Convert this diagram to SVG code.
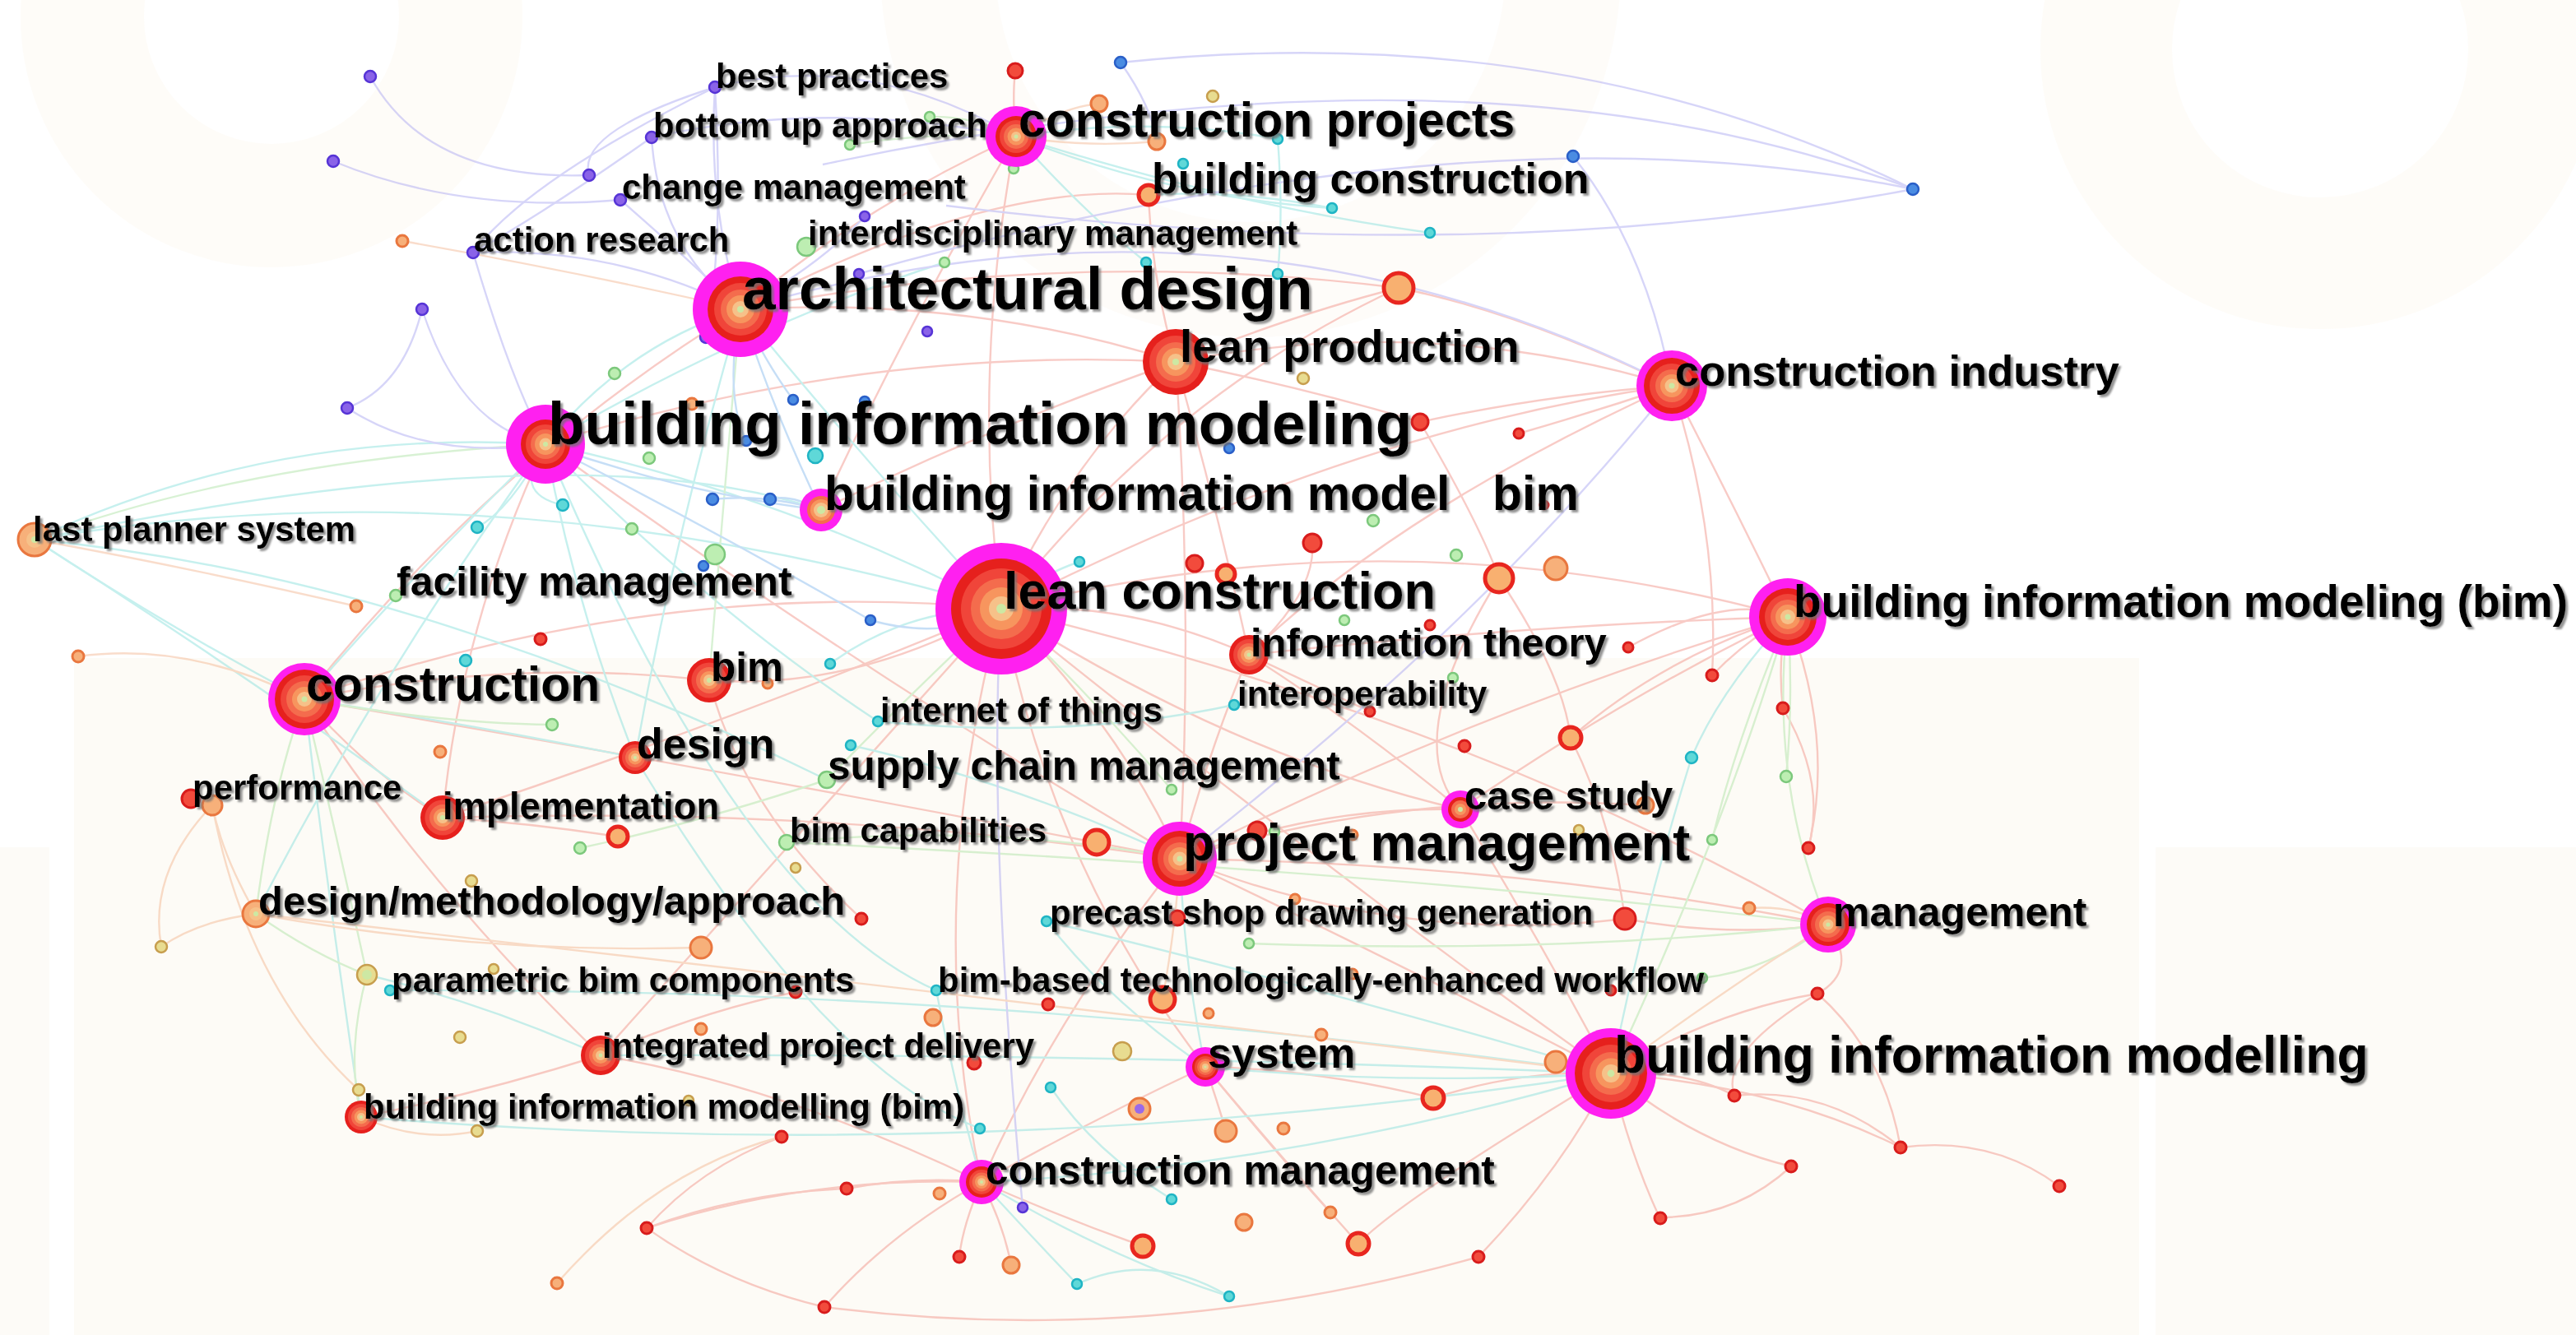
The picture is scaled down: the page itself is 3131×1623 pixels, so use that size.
<svg xmlns="http://www.w3.org/2000/svg" width="3131" height="1623" viewBox="0 0 3131 1623">
<defs>
<filter id="sh" x="-5%" y="-20%" width="110%" height="150%"><feDropShadow dx="3" dy="3" stdDeviation="1.2" flood-color="#707070" flood-opacity="0.75"/></filter>
<style>
.lb{font-family:"Liberation Sans",Arial,sans-serif;font-weight:bold;fill:#000;filter:url(#sh)}
.mg{fill:#ff20f0}.c1{fill:#e6201d}.c2{fill:#f0453a}.c3{fill:#f46c4d}.c4{fill:#f7955e}.c5{fill:#f6c189}.c6{fill:#cde8a3}
.r{fill:#f24b3c;stroke:#d81c1c;stroke-width:3}
.o{fill:#f7b07a;stroke:#e9773f;stroke-width:3}
.t{fill:#5fd8d8;stroke:#1fb4c4;stroke-width:2.5}
.b{fill:#4a8ce2;stroke:#2a5fc8;stroke-width:2.5}
.p{fill:#8a63e8;stroke:#5634d6;stroke-width:2.5}
.g{fill:#bdeeb2;stroke:#7cc87c;stroke-width:2.5}
.y{fill:#e8dc90;stroke:#c79e4e;stroke-width:2.5}
.rr{fill:#f8b070;stroke:#e8261f;stroke-width:5}
.e{fill:none;stroke-width:2.4;opacity:.42}
.er{stroke:#f0857a}.et{stroke:#79dcd8}.eg{stroke:#a3e09a}.ev{stroke:#a09cf0}.eo{stroke:#f2ae84}.eb{stroke:#78b2ec}
</style>
</defs>
<rect width="3131" height="1623" fill="#ffffff"/>
<g id="background" fill="none" stroke="#fdfaf4">
<circle cx="330" cy="20" r="230" stroke-width="150" opacity="0.6"/>
<circle cx="1520" cy="-40" r="380" stroke-width="140" opacity="0.5"/>
<circle cx="2820" cy="60" r="260" stroke-width="160" opacity="0.6"/>
<rect x="90" y="800" width="2510" height="823" fill="#fdfbf6" stroke="none"/>
<rect x="2620" y="1030" width="511" height="593" fill="#fdfbf7" stroke="none"/>
<rect x="0" y="1030" width="60" height="593" fill="#fdfbf7" stroke="none"/>
</g>
<g id="connectors" class="e">
<path class="er" d="M1217,740 Q1180,450 1235,166"/>
<path class="er" d="M1217,740 Q1300,560 1429,440"/>
<path class="er" d="M1217,740 Q1360,880 1434,1044"/>
<path class="er" d="M1217,740 Q1640,1080 1958,1305"/>
<path class="er" d="M1217,740 Q1650,520 2032,469"/>
<path class="er" d="M1217,740 Q800,700 370,850"/>
<path class="er" d="M1217,740 Q880,880 538,994"/>
<path class="er" d="M1217,740 Q1040,840 862,827"/>
<path class="er" d="M1217,740 Q1370,730 1518,796"/>
<path class="er" d="M1217,740 Q1280,1060 1465,1297"/>
<path class="er" d="M1217,740 Q1120,1100 1193,1437"/>
<path class="er" d="M1217,740 Q1700,620 2173,750"/>
<path class="er" d="M1217,740 Q1420,480 1700,350"/>
<path class="er" d="M1217,740 Q1800,880 2222,1124"/>
<path class="er" d="M1217,740 Q1500,920 1775,984"/>
<path class="er" d="M1217,740 Q940,1050 730,1283"/>
<path class="er" d="M900,376 Q1050,250 1235,166"/>
<path class="er" d="M900,376 Q1180,360 1429,440"/>
<path class="er" d="M900,376 Q600,560 370,850"/>
<path class="er" d="M900,376 Q1300,300 1700,350"/>
<path class="er" d="M900,376 Q1200,220 1396,237"/>
<path class="er" d="M663,540 Q560,760 538,994"/>
<path class="er" d="M663,540 Q1050,820 1434,1044"/>
<path class="er" d="M663,540 Q1050,420 1429,440"/>
<path class="er" d="M370,850 Q450,940 538,994"/>
<path class="er" d="M370,850 Q620,800 862,827"/>
<path class="er" d="M370,850 Q520,1080 730,1283"/>
<path class="er" d="M370,850 Q900,940 1434,1044"/>
<path class="er" d="M1434,1044 Q1280,1240 1193,1437"/>
<path class="er" d="M1434,1044 Q1720,1180 1958,1305"/>
<path class="er" d="M1434,1044 Q1600,980 1775,984"/>
<path class="er" d="M1434,1044 Q1850,1050 2222,1124"/>
<path class="er" d="M1434,1044 Q1470,910 1518,796"/>
<path class="er" d="M1434,1044 Q1000,980 538,994"/>
<path class="er" d="M1434,1044 Q1800,860 2173,750"/>
<path class="er" d="M1434,1044 Q1700,960 2000,979"/>
<path class="er" d="M1958,1305 Q2050,1300 2108,1332"/>
<path class="er" d="M1958,1305 Q2060,1390 2177,1418"/>
<path class="er" d="M1958,1305 Q2160,1320 2310,1395"/>
<path class="er" d="M1958,1305 Q1980,1400 2017,1480"/>
<path class="er" d="M1958,1305 Q1850,1300 1742,1335"/>
<path class="er" d="M1958,1305 Q1900,1420 1797,1528"/>
<path class="er" d="M1958,1305 Q2080,1230 2209,1208"/>
<path class="er" d="M1958,1305 Q1870,1140 1775,984"/>
<path class="er" d="M2108,1332 Q2220,1320 2310,1395"/>
<path class="er" d="M2310,1395 Q2420,1380 2503,1442"/>
<path class="er" d="M2017,1480 Q2110,1480 2177,1418"/>
<path class="er" d="M2209,1208 Q2290,1280 2310,1395"/>
<path class="er" d="M2209,1208 Q2090,1280 2108,1332"/>
<path class="er" d="M2173,750 Q2120,780 2081,821"/>
<path class="er" d="M2173,750 Q2160,800 2167,861"/>
<path class="er" d="M2173,750 Q2230,900 2198,1031"/>
<path class="er" d="M2173,750 Q1970,850 1775,984"/>
<path class="er" d="M2173,750 Q2020,800 1909,897"/>
<path class="er" d="M2173,750 Q1850,760 1518,796"/>
<path class="er" d="M2173,750 Q2100,720 1979,787"/>
<path class="er" d="M2167,861 Q2220,950 2198,1031"/>
<path class="er" d="M2032,469 Q2100,600 2173,750"/>
<path class="er" d="M2032,469 Q2090,650 2081,821"/>
<path class="er" d="M2032,469 Q1880,480 1726,513"/>
<path class="er" d="M2032,469 Q1940,500 1846,527"/>
<path class="er" d="M2032,469 Q1740,380 1429,440"/>
<path class="er" d="M2032,469 Q1850,380 1700,350"/>
<path class="er" d="M2032,469 Q1700,620 1518,796"/>
<path class="er" d="M1193,1437 Q1110,1430 1029,1445"/>
<path class="er" d="M1193,1437 Q1170,1490 1166,1528"/>
<path class="er" d="M1193,1437 Q1220,1490 1229,1538"/>
<path class="er" d="M1193,1437 Q1290,1480 1389,1515"/>
<path class="er" d="M1193,1437 Q950,1320 730,1283"/>
<path class="er" d="M1193,1437 Q980,1430 786,1493"/>
<path class="er" d="M1193,1437 Q1080,1500 1002,1589"/>
<path class="er" d="M1193,1437 Q1330,1360 1465,1297"/>
<path class="er" d="M1465,1297 Q1550,1400 1617,1474"/>
<path class="er" d="M1465,1297 Q1560,1410 1651,1512"/>
<path class="er" d="M1465,1297 Q1600,1300 1742,1335"/>
<path class="er" d="M1465,1297 Q1480,1340 1490,1375"/>
<path class="er" d="M786,1493 Q900,1450 1029,1445"/>
<path class="er" d="M786,1493 Q880,1560 1002,1589"/>
<path class="er" d="M786,1493 Q850,1420 950,1382"/>
<path class="er" d="M730,1283 Q580,1330 439,1358"/>
<path class="er" d="M730,1283 Q850,1230 967,1206"/>
<path class="er" d="M1429,440 Q1580,380 1700,350"/>
<path class="er" d="M1429,440 Q1580,470 1726,513"/>
<path class="er" d="M1429,440 Q1480,620 1518,796"/>
<path class="er" d="M1429,440 Q1450,740 1434,1044"/>
<path class="er" d="M1429,440 Q1200,520 998,620"/>
<path class="er" d="M1235,166 Q1230,120 1234,86"/>
<path class="er" d="M1235,166 Q1100,400 998,620"/>
<path class="er" d="M1396,237 Q1400,340 1429,440"/>
<path class="er" d="M1518,796 Q1590,830 1665,865"/>
<path class="er" d="M1518,796 Q1650,880 1775,984"/>
<path class="er" d="M1909,897 Q1960,1000 1975,1117"/>
<path class="er" d="M1822,703 Q1700,900 1775,984"/>
<path class="er" d="M1822,703 Q1900,820 1909,897"/>
<path class="er" d="M1595,660 Q1600,720 1518,796"/>
<path class="er" d="M538,994 Q640,1000 751,1017"/>
<path class="er" d="M862,827 Q900,980 1047,1117"/>
<path class="er" d="M1002,1589 Q1400,1640 1797,1528"/>
<path class="er" d="M1958,1305 Q1700,1460 1651,1512"/>
<path class="er" d="M1726,513 Q1800,640 1822,703"/>
<path class="er" d="M1434,1044 Q1700,1150 1975,1117"/>
<path class="er" d="M2222,1124 Q2260,1180 2209,1208"/>
<path class="er" d="M2222,1124 Q2100,1140 1975,1117"/>
<path class="et" d="M900,376 Q760,420 663,540"/>
<path class="et" d="M900,376 Q1050,560 1217,740"/>
<path class="et" d="M900,376 Q820,650 772,921"/>
<path class="et" d="M663,540 Q330,520 42,656"/>
<path class="et" d="M663,540 Q500,700 370,850"/>
<path class="et" d="M663,540 Q950,600 1217,740"/>
<path class="et" d="M663,540 Q700,740 772,921"/>
<path class="et" d="M663,540 Q460,820 311,1111"/>
<path class="et" d="M663,540 Q860,740 1067,877"/>
<path class="et" d="M663,540 Q900,400 1148,319"/>
<path class="et" d="M663,540 Q620,600 684,614"/>
<path class="et" d="M663,540 Q620,620 580,641"/>
<path class="et" d="M42,656 Q200,760 370,850"/>
<path class="et" d="M42,656 Q600,560 1217,740"/>
<path class="et" d="M42,656 Q300,820 538,994"/>
<path class="et" d="M42,656 Q500,700 1005,948"/>
<path class="et" d="M42,656 Q700,520 998,620"/>
<path class="et" d="M370,850 Q570,880 772,921"/>
<path class="et" d="M370,850 Q400,1100 439,1358"/>
<path class="et" d="M1434,1044 Q1440,1180 1465,1297"/>
<path class="et" d="M1958,1305 Q1700,1320 1465,1297"/>
<path class="et" d="M1958,1305 Q1560,1420 1193,1437"/>
<path class="et" d="M1958,1305 Q1350,1280 730,1283"/>
<path class="et" d="M1958,1305 Q1200,1420 439,1358"/>
<path class="et" d="M1958,1305 Q1600,1200 1272,1120"/>
<path class="et" d="M1193,1437 Q1260,1510 1309,1561"/>
<path class="et" d="M1193,1437 Q1350,1530 1494,1576"/>
<path class="et" d="M1235,166 Q1400,140 1553,169"/>
<path class="et" d="M1235,166 Q1420,240 1619,253"/>
<path class="et" d="M1235,166 Q1500,250 1738,283"/>
<path class="et" d="M1396,237 Q1500,230 1619,253"/>
<path class="et" d="M1235,166 Q1320,260 1393,319"/>
<path class="et" d="M1553,169 Q1560,260 1553,333"/>
<path class="et" d="M1067,877 Q1300,900 1500,857"/>
<path class="et" d="M1034,906 Q1230,950 1434,1044"/>
<path class="et" d="M1272,1120 Q1350,1220 1465,1297"/>
<path class="et" d="M1138,1204 Q1160,1320 1193,1437"/>
<path class="et" d="M1277,1322 Q1330,1400 1424,1458"/>
<path class="et" d="M1217,740 Q1100,740 1009,807"/>
<path class="et" d="M1217,740 Q1260,700 1312,683"/>
<path class="et" d="M2173,750 Q2090,840 2056,921"/>
<path class="et" d="M2056,921 Q2000,1100 1958,1305"/>
<path class="et" d="M446,1185 Q590,1220 730,1283"/>
<path class="et" d="M474,1204 Q1200,1200 1958,1305"/>
<path class="et" d="M1138,1204 Q900,1100 663,540"/>
<path class="et" d="M1191,1372 Q1000,1300 772,921"/>
<path class="et" d="M1309,1561 Q1400,1520 1494,1576"/>
<path class="eg" d="M900,376 Q880,600 862,827"/>
<path class="eg" d="M370,850 Q330,960 311,1111"/>
<path class="eg" d="M370,850 Q410,1020 446,1185"/>
<path class="eg" d="M1005,948 Q1100,850 1217,740"/>
<path class="eg" d="M956,1024 Q1200,1000 1434,1044"/>
<path class="eg" d="M1424,960 Q1330,850 1217,740"/>
<path class="eg" d="M2173,750 Q2180,850 2171,944"/>
<path class="eg" d="M2173,750 Q2150,950 2222,1124"/>
<path class="eg" d="M2173,750 Q2100,1000 1958,1305"/>
<path class="eg" d="M2173,750 Q2110,900 2081,1021"/>
<path class="eg" d="M1235,166 Q1180,140 1130,142"/>
<path class="eg" d="M1235,166 Q1130,160 1033,176"/>
<path class="eg" d="M439,1358 Q420,1280 446,1185"/>
<path class="eg" d="M311,1111 Q380,1160 446,1185"/>
<path class="eg" d="M42,656 Q300,560 663,540"/>
<path class="eg" d="M2222,1124 Q2150,1180 2069,1189"/>
<path class="eg" d="M705,1031 Q850,1000 1005,948"/>
<path class="eg" d="M671,881 Q540,880 370,850"/>
<path class="eg" d="M2222,1124 Q1700,1060 956,1024"/>
<path class="eg" d="M2222,1124 Q1900,1160 1518,1147"/>
<path class="ev" d="M450,93 Q520,220 716,213"/>
<path class="ev" d="M405,196 Q560,260 754,243"/>
<path class="ev" d="M869,106 Q700,160 716,213"/>
<path class="ev" d="M869,106 Q640,220 575,307"/>
<path class="ev" d="M792,167 Q660,260 575,307"/>
<path class="ev" d="M575,307 Q750,300 900,376"/>
<path class="ev" d="M792,167 Q800,300 900,376"/>
<path class="ev" d="M869,106 Q860,250 900,376"/>
<path class="ev" d="M754,243 Q820,300 900,376"/>
<path class="ev" d="M513,376 Q490,470 422,496"/>
<path class="ev" d="M513,376 Q560,520 663,540"/>
<path class="ev" d="M422,496 Q520,560 663,540"/>
<path class="ev" d="M869,106 Q1050,60 1235,166"/>
<path class="ev" d="M792,167 Q1000,120 1235,166"/>
<path class="ev" d="M1362,76 Q1900,20 2325,230"/>
<path class="ev" d="M1000,200 Q1800,30 2325,230"/>
<path class="ev" d="M1043,333 Q1800,120 2325,230"/>
<path class="ev" d="M1150,250 Q1800,330 2325,230"/>
<path class="ev" d="M1362,76 Q1400,130 1406,172"/>
<path class="ev" d="M900,376 Q1500,200 2032,469"/>
<path class="ev" d="M1912,190 Q2000,300 2032,469"/>
<path class="ev" d="M1243,1468 Q1200,1000 1217,740"/>
<path class="ev" d="M858,410 Q880,300 869,106"/>
<path class="ev" d="M575,307 Q620,460 663,540"/>
<path class="ev" d="M2032,469 Q1800,760 1434,1044"/>
<path class="ev" d="M1051,263 Q1000,320 900,376"/>
<path class="eo" d="M311,1111 Q240,1120 196,1151"/>
<path class="eo" d="M311,1111 Q270,1040 258,979"/>
<path class="eo" d="M311,1111 Q580,1160 852,1152"/>
<path class="eo" d="M258,979 Q180,1060 196,1151"/>
<path class="eo" d="M258,979 Q300,1200 436,1325"/>
<path class="eo" d="M42,656 Q230,690 433,737"/>
<path class="eo" d="M1958,1305 Q1100,1200 311,1111"/>
<path class="eo" d="M1958,1305 Q2100,1200 2222,1124"/>
<path class="eo" d="M1434,1044 Q1430,1120 1413,1215"/>
<path class="eo" d="M677,1560 Q800,1420 950,1382"/>
<path class="eo" d="M439,1358 Q510,1390 580,1375"/>
<path class="eo" d="M2222,1124 Q2180,1100 2126,1104"/>
<path class="eo" d="M1235,166 Q1290,130 1336,126"/>
<path class="eo" d="M1235,166 Q1320,180 1406,172"/>
<path class="eo" d="M370,850 Q230,780 95,798"/>
<path class="eo" d="M489,293 Q700,330 900,376"/>
<path class="eb" d="M900,376 Q940,500 998,620"/>
<path class="eb" d="M663,540 Q830,600 998,620"/>
<path class="eb" d="M663,540 Q860,640 1058,754"/>
<path class="eb" d="M998,620 Q960,600 936,607"/>
<path class="eb" d="M998,620 Q930,600 866,607"/>
<path class="eb" d="M900,376 Q930,440 964,486"/>
<path class="eb" d="M900,376 Q880,480 907,536"/>
<path class="eb" d="M1217,740 Q1150,780 1058,754"/>
</g>
<g id="minor-nodes">
<circle class="p" cx="450" cy="93" r="7"/><circle class="p" cx="405" cy="196" r="7"/><circle class="p" cx="869" cy="106" r="7"/><circle class="p" cx="792" cy="167" r="7"/><circle class="p" cx="716" cy="213" r="7"/><circle class="p" cx="754" cy="243" r="7"/><circle class="p" cx="575" cy="307" r="7"/><circle class="p" cx="1051" cy="263" r="6"/><circle class="p" cx="1044" cy="333" r="6"/><circle class="p" cx="513" cy="376" r="7"/><circle class="p" cx="858" cy="410" r="7"/><circle class="p" cx="422" cy="496" r="7"/><circle class="p" cx="1127" cy="403" r="6"/><circle class="p" cx="1243" cy="1468" r="6"/>
<circle class="b" cx="1362" cy="76" r="7"/><circle class="b" cx="1912" cy="190" r="7"/><circle class="b" cx="2325" cy="230" r="7"/><circle class="b" cx="964" cy="486" r="6"/><circle class="b" cx="1051" cy="488" r="6"/><circle class="b" cx="907" cy="536" r="6"/><circle class="b" cx="866" cy="607" r="7"/><circle class="b" cx="936" cy="607" r="7"/><circle class="b" cx="855" cy="688" r="6"/><circle class="b" cx="1058" cy="754" r="6"/><circle class="b" cx="1494" cy="545" r="6"/>
<circle class="t" cx="991" cy="554" r="9"/><circle class="t" cx="684" cy="614" r="7"/><circle class="t" cx="580" cy="641" r="7"/><circle class="t" cx="1553" cy="169" r="6"/><circle class="t" cx="1438" cy="199" r="6"/><circle class="t" cx="1393" cy="319" r="6"/><circle class="t" cx="1553" cy="333" r="6"/><circle class="t" cx="1619" cy="253" r="6"/><circle class="t" cx="1738" cy="283" r="6"/><circle class="t" cx="566" cy="803" r="7"/><circle class="t" cx="1009" cy="807" r="6"/><circle class="t" cx="1067" cy="877" r="6"/><circle class="t" cx="1034" cy="906" r="6"/><circle class="t" cx="1312" cy="683" r="6"/><circle class="t" cx="1183" cy="727" r="6"/><circle class="t" cx="1500" cy="857" r="6"/><circle class="t" cx="2056" cy="921" r="7"/><circle class="t" cx="1272" cy="1120" r="6"/><circle class="t" cx="1138" cy="1204" r="6"/><circle class="t" cx="474" cy="1204" r="6"/><circle class="t" cx="1277" cy="1322" r="6"/><circle class="t" cx="1191" cy="1372" r="6"/><circle class="t" cx="1424" cy="1458" r="6"/><circle class="t" cx="1309" cy="1561" r="6"/><circle class="t" cx="1494" cy="1576" r="6"/>
<circle class="g" cx="980" cy="300" r="11"/><circle class="g" cx="1148" cy="319" r="6"/><circle class="g" cx="1130" cy="142" r="6"/><circle class="g" cx="1033" cy="176" r="6"/><circle class="g" cx="1232" cy="205" r="6"/><circle class="g" cx="747" cy="454" r="7"/><circle class="g" cx="789" cy="557" r="7"/><circle class="g" cx="625" cy="550" r="7"/><circle class="g" cx="768" cy="643" r="7"/><circle class="g" cx="869" cy="674" r="12"/><circle class="g" cx="481" cy="724" r="7"/><circle class="g" cx="671" cy="881" r="7"/><circle class="g" cx="705" cy="1031" r="7"/><circle class="g" cx="1005" cy="948" r="10"/><circle class="g" cx="956" cy="1024" r="9"/><circle class="g" cx="1669" cy="633" r="7"/><circle class="g" cx="1770" cy="675" r="7"/><circle class="g" cx="1634" cy="754" r="6"/><circle class="g" cx="1766" cy="824" r="6"/><circle class="g" cx="1424" cy="960" r="6"/><circle class="g" cx="1549" cy="1011" r="6"/><circle class="g" cx="2081" cy="1021" r="6"/><circle class="g" cx="2171" cy="944" r="7"/><circle class="g" cx="2069" cy="1189" r="6"/><circle class="g" cx="1518" cy="1147" r="6"/>
<circle class="y" cx="1474" cy="117" r="7"/><circle class="y" cx="1584" cy="460" r="7"/><circle class="y" cx="967" cy="1055" r="6"/><circle class="y" cx="573" cy="1071" r="7"/><circle class="y" cx="196" cy="1151" r="7"/><circle class="y" cx="600" cy="1178" r="6"/><circle class="y" cx="559" cy="1261" r="7"/><circle class="y" cx="436" cy="1325" r="7"/><circle class="y" cx="580" cy="1375" r="7"/><circle class="y" cx="837" cy="1338" r="6"/><circle class="y" cx="1364" cy="1278" r="11"/><circle class="y" cx="1919" cy="1009" r="6"/>
<circle class="o" cx="489" cy="293" r="7"/><circle class="o" cx="1336" cy="126" r="10"/><circle class="o" cx="1406" cy="172" r="10"/><circle class="o" cx="841" cy="491" r="7"/><circle class="o" cx="433" cy="737" r="7"/><circle class="o" cx="95" cy="798" r="7"/><circle class="o" cx="535" cy="914" r="7"/><circle class="o" cx="933" cy="831" r="6"/><circle class="o" cx="852" cy="1152" r="13"/><circle class="o" cx="852" cy="1251" r="7"/><circle class="o" cx="1891" cy="691" r="14"/><circle class="o" cx="1644" cy="1015" r="6"/><circle class="o" cx="1574" cy="1093" r="6"/><circle class="o" cx="1644" cy="1184" r="6"/><circle class="o" cx="1134" cy="1237" r="10"/><circle class="o" cx="1469" cy="1232" r="6"/><circle class="o" cx="1606" cy="1258" r="7"/><circle class="o" cx="1891" cy="1291" r="13"/><circle class="o" cx="1490" cy="1375" r="13"/><circle class="o" cx="1560" cy="1372" r="7"/><circle class="o" cx="1142" cy="1451" r="7"/><circle class="o" cx="1617" cy="1474" r="7"/><circle class="o" cx="1512" cy="1486" r="10"/><circle class="o" cx="1229" cy="1538" r="10"/><circle class="o" cx="677" cy="1560" r="7"/><circle class="o" cx="2126" cy="1104" r="7"/><circle class="o" cx="2000" cy="979" r="10"/><circle class="o" cx="1385" cy="1348" r="13"/><circle cx="1385" cy="1348" r="6" fill="#9a6ae8"/>
<circle class="r" cx="1234" cy="86" r="9"/><circle class="r" cx="1726" cy="513" r="10"/><circle class="r" cx="1846" cy="527" r="6"/><circle class="r" cx="1452" cy="685" r="10"/><circle class="r" cx="1229" cy="674" r="7"/><circle class="r" cx="1595" cy="660" r="11"/><circle class="r" cx="657" cy="777" r="7"/><circle class="r" cx="1047" cy="1117" r="7"/><circle class="r" cx="967" cy="1206" r="7"/><circle class="r" cx="950" cy="1382" r="7"/><circle class="r" cx="1029" cy="1445" r="7"/><circle class="r" cx="786" cy="1493" r="7"/><circle class="r" cx="1002" cy="1589" r="7"/><circle class="r" cx="1738" cy="760" r="6"/><circle class="r" cx="1979" cy="787" r="6"/><circle class="r" cx="1665" cy="865" r="6"/><circle class="r" cx="1780" cy="907" r="7"/><circle class="r" cx="1528" cy="1010" r="11"/><circle class="r" cx="1431" cy="1116" r="9"/><circle class="r" cx="1975" cy="1117" r="13"/><circle class="r" cx="1274" cy="1221" r="7"/><circle class="r" cx="1958" cy="1204" r="6"/><circle class="r" cx="1184" cy="1292" r="8"/><circle class="r" cx="2018" cy="1481" r="7"/><circle class="r" cx="1166" cy="1528" r="7"/><circle class="r" cx="1797" cy="1528" r="7"/><circle class="r" cx="2081" cy="821" r="7"/><circle class="r" cx="2167" cy="861" r="7"/><circle class="r" cx="2198" cy="1031" r="7"/><circle class="r" cx="2209" cy="1208" r="7"/><circle class="r" cx="2108" cy="1332" r="7"/><circle class="r" cx="2310" cy="1395" r="7"/><circle class="r" cx="2177" cy="1418" r="7"/><circle class="r" cx="2503" cy="1442" r="7"/><circle class="r" cx="1877" cy="614" r="5"/>
<circle class="rr" cx="1700" cy="350" r="18"/><circle class="rr" cx="1822" cy="703" r="17"/><circle class="rr" cx="1490" cy="698" r="11"/><circle class="rr" cx="1909" cy="897" r="13"/><circle class="rr" cx="1333" cy="1024" r="15"/><circle class="rr" cx="751" cy="1017" r="12"/><circle class="rr" cx="1413" cy="1215" r="15"/><circle class="rr" cx="1742" cy="1335" r="13"/><circle class="rr" cx="1651" cy="1512" r="13"/><circle class="rr" cx="1389" cy="1515" r="13"/>
</g>
<g id="n-best-practices"><text class="lb" x="870" y="107" font-size="42">best practices</text></g>
<g id="n-bottom-up-approach"><text class="lb" x="794" y="167" font-size="42">bottom up approach</text></g>
<g id="n-construction-projects"><circle class="mg" cx="1235" cy="166" r="37"/><circle class="c1" cx="1235" cy="166" r="25"/><circle class="c2" cx="1235" cy="166" r="20"/><circle class="c3" cx="1235" cy="166" r="15"/><circle class="c4" cx="1235" cy="166" r="10.5"/><circle class="c5" cx="1235" cy="166" r="6"/><circle class="c6" cx="1235" cy="166" r="2.5"/><text class="lb" x="1238" y="166" font-size="59">construction projects</text></g>
<g id="n-building-construction"><circle class="rr" cx="1396" cy="237" r="12"/><text class="lb" x="1400" y="235" font-size="52">building construction</text></g>
<g id="n-change-management"><text class="lb" x="756" y="242" font-size="42">change management</text></g>
<g id="n-action-research"><text class="lb" x="576" y="306" font-size="42">action research</text></g>
<g id="n-interdisciplinary-management"><text class="lb" x="982" y="298" font-size="42">interdisciplinary management</text></g>
<g id="n-architectural-design"><circle class="mg" cx="900" cy="376" r="58"/><circle class="c1" cx="900" cy="376" r="40"/><circle class="c2" cx="900" cy="376" r="32"/><circle class="c3" cx="900" cy="376" r="24"/><circle class="c4" cx="900" cy="376" r="17"/><circle class="c5" cx="900" cy="376" r="10"/><circle class="c6" cx="900" cy="376" r="4"/><text class="lb" x="902" y="376" font-size="73">architectural design</text></g>
<g id="n-lean-production"><circle class="c1" cx="1429" cy="440" r="40"/><circle class="c2" cx="1429" cy="440" r="32"/><circle class="c3" cx="1429" cy="440" r="24"/><circle class="c4" cx="1429" cy="440" r="17"/><circle class="c5" cx="1429" cy="440" r="10"/><circle class="c6" cx="1429" cy="440" r="4"/><text class="lb" x="1434" y="440" font-size="55">lean production</text></g>
<g id="n-construction-industry"><circle class="mg" cx="2032" cy="469" r="43"/><circle class="c1" cx="2032" cy="469" r="34"/><circle class="c2" cx="2032" cy="469" r="27"/><circle class="c3" cx="2032" cy="469" r="20"/><circle class="c4" cx="2032" cy="469" r="14"/><circle class="c5" cx="2032" cy="469" r="8.5"/><circle class="c6" cx="2032" cy="469" r="3.5"/><text class="lb" x="2036" y="469" font-size="52.5">construction industry</text></g>
<g id="n-building-information-modeling"><circle class="mg" cx="663" cy="540" r="48"/><circle class="c1" cx="663" cy="540" r="30"/><circle class="c2" cx="663" cy="540" r="24"/><circle class="c3" cx="663" cy="540" r="18"/><circle class="c4" cx="663" cy="540" r="13"/><circle class="c5" cx="663" cy="540" r="7.5"/><circle class="c6" cx="663" cy="540" r="3"/><text class="lb" x="666" y="540" font-size="73">building information modeling</text></g>
<g id="n-building-information-model"><circle class="mg" cx="998" cy="620" r="26"/><circle class="c3" cx="998" cy="620" r="17"/><circle class="c4" cx="998" cy="620" r="13"/><circle class="c5" cx="998" cy="620" r="9"/><circle class="c6" cx="998" cy="620" r="5"/><text class="lb" x="1002" y="620" font-size="59">building information model</text></g>
<g id="n-bim-top"><text class="lb" x="1814" y="620" font-size="59">bim</text></g>
<g id="n-last-planner-system"><circle class="o" cx="42" cy="656" r="20"/><circle class="c5" cx="42" cy="656" r="10"/><circle class="c6" cx="42" cy="656" r="4"/><text class="lb" x="40" y="658" font-size="42">last planner system</text></g>
<g id="n-facility-management"><text class="lb" x="482" y="724" font-size="50">facility management</text></g>
<g id="n-lean-construction"><circle class="mg" cx="1217" cy="740" r="80"/><circle class="c1" cx="1217" cy="740" r="61"/><circle class="c2" cx="1217" cy="740" r="49"/><circle class="c3" cx="1217" cy="740" r="37"/><circle class="c4" cx="1217" cy="740" r="26"/><circle class="c5" cx="1217" cy="740" r="15"/><circle class="c6" cx="1217" cy="740" r="6"/><text class="lb" x="1220" y="740" font-size="63">lean construction</text></g>
<g id="n-building-information-modeling-bim"><circle class="mg" cx="2173" cy="750" r="47"/><circle class="c1" cx="2173" cy="750" r="35"/><circle class="c2" cx="2173" cy="750" r="28"/><circle class="c3" cx="2173" cy="750" r="21"/><circle class="c4" cx="2173" cy="750" r="15"/><circle class="c5" cx="2173" cy="750" r="9"/><circle class="c6" cx="2173" cy="750" r="3.5"/><text class="lb" x="2180" y="750" font-size="55">building information modeling (bim)</text></g>
<g id="n-information-theory"><circle class="c1" cx="1518" cy="796" r="24"/><circle class="c2" cx="1518" cy="796" r="19"/><circle class="c3" cx="1518" cy="796" r="14"/><circle class="c4" cx="1518" cy="796" r="10"/><circle class="c5" cx="1518" cy="796" r="6"/><circle class="c6" cx="1518" cy="796" r="2.5"/><text class="lb" x="1520" y="798" font-size="49">information theory</text></g>
<g id="n-construction"><circle class="mg" cx="370" cy="850" r="44"/><circle class="c1" cx="370" cy="850" r="36"/><circle class="c2" cx="370" cy="850" r="29"/><circle class="c3" cx="370" cy="850" r="22"/><circle class="c4" cx="370" cy="850" r="15"/><circle class="c5" cx="370" cy="850" r="9"/><circle class="c6" cx="370" cy="850" r="3.5"/><text class="lb" x="372" y="852" font-size="59">construction</text></g>
<g id="n-bim-mid"><circle class="c1" cx="862" cy="827" r="27"/><circle class="c2" cx="862" cy="827" r="21.6"/><circle class="c3" cx="862" cy="827" r="16"/><circle class="c4" cx="862" cy="827" r="11"/><circle class="c5" cx="862" cy="827" r="7"/><circle class="c6" cx="862" cy="827" r="3"/><text class="lb" x="864" y="828" font-size="49.5">bim</text></g>
<g id="n-interoperability"><text class="lb" x="1504" y="858" font-size="42">interoperability</text></g>
<g id="n-internet-of-things"><text class="lb" x="1070" y="878" font-size="42">internet of things</text></g>
<g id="n-design"><circle class="c1" cx="772" cy="921" r="20"/><circle class="c2" cx="772" cy="921" r="16"/><circle class="c3" cx="772" cy="921" r="12"/><circle class="c4" cx="772" cy="921" r="8.4"/><circle class="c5" cx="772" cy="921" r="5"/><circle class="c6" cx="772" cy="921" r="2"/><text class="lb" x="774" y="922" font-size="52">design</text></g>
<g id="n-supply-chain-management"><text class="lb" x="1006" y="948" font-size="49.6">supply chain management</text></g>
<g id="n-performance"><circle class="r" cx="232" cy="971" r="11"/><circle class="o" cx="258" cy="979" r="12"/><text class="lb" x="234" y="972" font-size="42">performance</text></g>
<g id="n-case-study"><circle class="mg" cx="1775" cy="984" r="23"/><circle class="c1" cx="1775" cy="984" r="15"/><circle class="c3" cx="1775" cy="984" r="11"/><circle class="c4" cx="1775" cy="984" r="7"/><circle class="c6" cx="1775" cy="984" r="3"/><text class="lb" x="1780" y="984" font-size="49">case study</text></g>
<g id="n-implementation"><circle class="c1" cx="538" cy="994" r="27"/><circle class="c2" cx="538" cy="994" r="21.6"/><circle class="c3" cx="538" cy="994" r="16"/><circle class="c4" cx="538" cy="994" r="11"/><circle class="c5" cx="538" cy="994" r="7"/><circle class="c6" cx="538" cy="994" r="3"/><text class="lb" x="538" y="996" font-size="45.5">implementation</text></g>
<g id="n-bim-capabilities"><text class="lb" x="960" y="1024" font-size="41.6">bim capabilities</text></g>
<g id="n-project-management"><circle class="mg" cx="1434" cy="1044" r="45"/><circle class="c1" cx="1434" cy="1044" r="34"/><circle class="c2" cx="1434" cy="1044" r="27"/><circle class="c3" cx="1434" cy="1044" r="20"/><circle class="c4" cx="1434" cy="1044" r="14"/><circle class="c5" cx="1434" cy="1044" r="8.5"/><circle class="c6" cx="1434" cy="1044" r="3.5"/><text class="lb" x="1438" y="1046" font-size="63">project management</text></g>
<g id="n-design-methodology-approach"><circle class="o" cx="311" cy="1111" r="16"/><circle class="c5" cx="311" cy="1111" r="8"/><circle class="c6" cx="311" cy="1111" r="3"/><text class="lb" x="314" y="1112" font-size="49">design/methodology/approach</text></g>
<g id="n-management"><circle class="mg" cx="2222" cy="1124" r="34"/><circle class="c1" cx="2222" cy="1124" r="26"/><circle class="c2" cx="2222" cy="1124" r="21"/><circle class="c3" cx="2222" cy="1124" r="16"/><circle class="c4" cx="2222" cy="1124" r="11"/><circle class="c5" cx="2222" cy="1124" r="6.5"/><circle class="c6" cx="2222" cy="1124" r="2.6"/><text class="lb" x="2228" y="1126" font-size="50">management</text></g>
<g id="n-precast-shop-drawing-generation"><text class="lb" x="1276" y="1124" font-size="42">precast shop drawing generation</text></g>
<g id="n-parametric-bim-components"><circle class="y" cx="446" cy="1185" r="12"/><circle class="c6" cx="446" cy="1185" r="6"/><text class="lb" x="476" y="1206" font-size="42">parametric bim components</text></g>
<g id="n-bim-based-workflow"><text class="lb" x="1140" y="1206" font-size="42">bim-based technologically-enhanced workflow</text></g>
<g id="n-integrated-project-delivery"><circle class="c1" cx="730" cy="1283" r="24"/><circle class="c2" cx="730" cy="1283" r="19"/><circle class="c3" cx="730" cy="1283" r="14"/><circle class="c4" cx="730" cy="1283" r="10"/><circle class="c5" cx="730" cy="1283" r="6"/><circle class="c6" cx="730" cy="1283" r="2.4"/><text class="lb" x="732" y="1286" font-size="42">integrated project delivery</text></g>
<g id="n-system"><circle class="mg" cx="1465" cy="1297" r="24"/><circle class="c1" cx="1465" cy="1297" r="16"/><circle class="c2" cx="1465" cy="1297" r="13"/><circle class="c3" cx="1465" cy="1297" r="10"/><circle class="c4" cx="1465" cy="1297" r="7"/><circle class="c5" cx="1465" cy="1297" r="4"/><circle class="c6" cx="1465" cy="1297" r="1.6"/><text class="lb" x="1468" y="1298" font-size="52">system</text></g>
<g id="n-building-information-modelling"><circle class="mg" cx="1958" cy="1305" r="55"/><circle class="c1" cx="1958" cy="1305" r="44"/><circle class="c2" cx="1958" cy="1305" r="35"/><circle class="c3" cx="1958" cy="1305" r="26"/><circle class="c4" cx="1958" cy="1305" r="18.5"/><circle class="c5" cx="1958" cy="1305" r="11"/><circle class="c6" cx="1958" cy="1305" r="4.4"/><text class="lb" x="1962" y="1304" font-size="62.5">building information modelling</text></g>
<g id="n-building-information-modelling-bim"><circle class="c1" cx="439" cy="1358" r="20"/><circle class="c2" cx="439" cy="1358" r="16"/><circle class="c3" cx="439" cy="1358" r="12"/><circle class="c4" cx="439" cy="1358" r="8.4"/><circle class="c5" cx="439" cy="1358" r="5"/><circle class="c6" cx="439" cy="1358" r="2"/><text class="lb" x="442" y="1360" font-size="42">building information modelling (bim)</text></g>
<g id="n-construction-management"><circle class="mg" cx="1193" cy="1437" r="27"/><circle class="c1" cx="1193" cy="1437" r="19"/><circle class="c2" cx="1193" cy="1437" r="15"/><circle class="c3" cx="1193" cy="1437" r="11.4"/><circle class="c4" cx="1193" cy="1437" r="8"/><circle class="c5" cx="1193" cy="1437" r="4.8"/><circle class="c6" cx="1193" cy="1437" r="2"/><text class="lb" x="1198" y="1440" font-size="49.5">construction management</text></g>
</svg>
